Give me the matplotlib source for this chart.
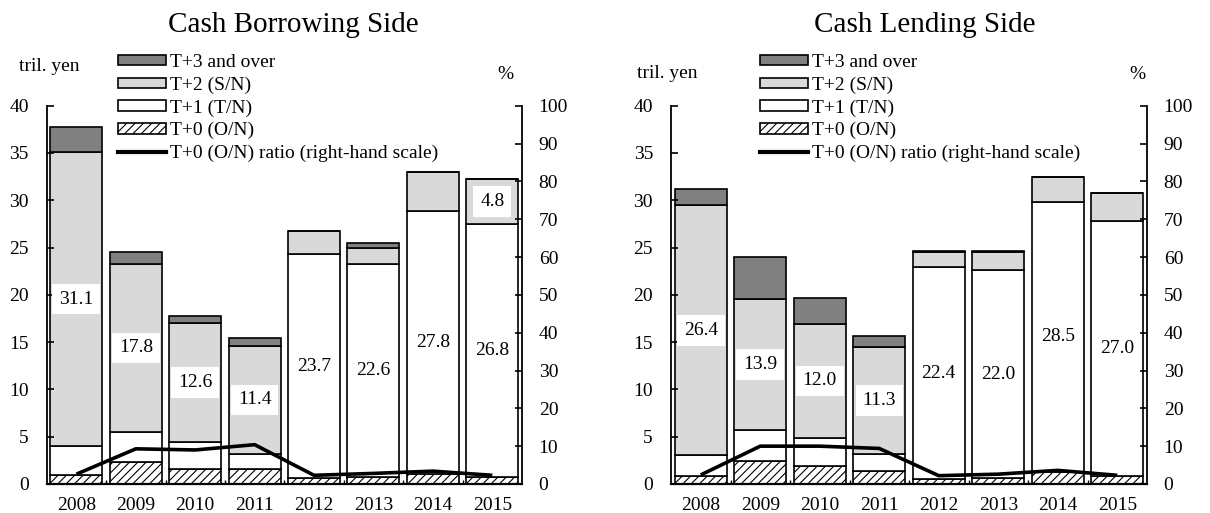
import matplotlib
matplotlib.use("Agg")
import matplotlib.pyplot as plt
from matplotlib.patches import Patch
from matplotlib.lines import Line2D

plt.rcParams["font.family"] = ["Liberation Serif", "DejaVu Serif"]
plt.rcParams["hatch.linewidth"] = 0.8

YEARS = ["2008", "2009", "2010", "2011", "2012", "2013", "2014", "2015"]

# Cash borrowing side (tril. yen)
BORROW_T0 = [1.0, 2.3, 1.6, 1.6, 0.6, 0.7, 1.1, 0.7]
BORROW_T1 = [3.0, 3.2, 2.8, 1.6, 23.7, 22.6, 27.8, 26.8]
BORROW_T2 = [31.1, 17.8, 12.6, 11.4, 2.4, 1.7, 4.1, 4.8]
BORROW_T3 = [2.6, 1.2, 0.8, 0.8, 0.0, 0.5, 0.0, 0.0]
BORROW_RATIO = [2.6, 9.3, 9.0, 10.4, 2.3, 2.8, 3.4, 2.3]

# Cash lending side (tril. yen)
LEND_T0 = [0.85, 2.4, 1.9, 1.4, 0.5, 0.6, 1.3, 0.8]
LEND_T1 = [2.2, 3.3, 3.0, 1.8, 22.4, 22.0, 28.5, 27.0]
LEND_T2 = [26.4, 13.9, 12.0, 11.3, 1.6, 1.9, 2.7, 3.0]
LEND_T3 = [1.7, 4.4, 2.8, 1.1, 0.15, 0.15, 0.0, 0.0]
LEND_RATIO = [2.4, 10.0, 10.0, 9.4, 2.2, 2.6, 3.6, 2.3]

# which segments carry a value label: (year index, segment name)
BORROW_LABELS = [(0, "T2"), (1, "T2"), (2, "T2"), (3, "T2"),
                 (4, "T1"), (5, "T1"), (6, "T1"), (7, "T1"), (7, "T2")]
LEND_LABELS = [(0, "T2"), (1, "T2"), (2, "T2"), (3, "T2"),
               (4, "T1"), (5, "T1"), (6, "T1"), (7, "T1")]

LEGEND_LABELS = ["T+3 and over", "T+2 (S/N)", "T+1 (T/N)", "T+0 (O/N)",
                 "T+0 (O/N) ratio (right-hand scale)"]

C_T3 = "#808080"
C_T2 = "#d9d9d9"
C_T1 = "#ffffff"
EDGE = "black"
FS = 14

W, H = 1210, 513


def px(x, y, w, h):
    return [x / W, (H - y - h) / H, w / W, h / H]


def draw_panel(fig, rect, t0, t1, t2, t3, ratio, labels, title, title_x,
               yen_xy, pct_xy, leg_xy):
    ax = fig.add_axes(px(*rect))
    x = list(range(len(YEARS)))
    width = 0.875
    segs = {"T0": t0, "T1": t1, "T2": t2, "T3": t3}
    b1 = [a for a in t0]
    b2 = [a + b for a, b in zip(t0, t1)]
    b3 = [a + b for a, b in zip(b2, t2)]
    bottoms = {"T0": [0] * len(x), "T1": b1, "T2": b2, "T3": b3}

    ax.bar(x, t0, width, color="white", edgecolor=EDGE, hatch="////", lw=1.2)
    ax.bar(x, t1, width, bottom=b1, color=C_T1, edgecolor=EDGE, lw=1.2)
    ax.bar(x, t2, width, bottom=b2, color=C_T2, edgecolor=EDGE, lw=1.2)
    ax.bar(x, t3, width, bottom=b3, color=C_T3, edgecolor=EDGE, lw=1.2)

    for i, seg in labels:
        v = segs[seg][i]
        yc = bottoms[seg][i] + v / 2
        ax.text(x[i], yc, f"{v:.1f}", ha="center", va="center", fontsize=FS,
                bbox=dict(boxstyle="square,pad=0.35", fc="white", ec="none"))

    ax.set_xlim(-0.5, len(x) - 0.5)
    ax.set_ylim(0, 40)
    ax.set_yticks(range(0, 41, 5))
    ax.set_xticks(x)
    ax.set_xticklabels(YEARS, fontsize=FS)
    ax.set_xticks([i + 0.5 for i in x[:-1]], minor=True)
    ax.tick_params(axis="x", which="major", length=0, pad=9)
    ax.tick_params(axis="x", which="minor", direction="in", length=3, width=1)
    ax.tick_params(axis="y", direction="in", length=5, width=1.2, pad=13,
                   labelsize=FS)
    for s in ["top", "right"]:
        ax.spines[s].set_visible(False)
    ax.spines["left"].set_linewidth(1.3)
    ax.spines["bottom"].set_linewidth(1.6)

    axr = ax.twinx()
    axr.plot(x, ratio, color="black", lw=2.6, solid_capstyle="butt")
    axr.set_ylim(0, 100)
    axr.set_yticks(range(0, 101, 10))
    axr.tick_params(axis="y", direction="in", length=5, width=1.2, pad=12,
                    labelsize=FS)
    for s in ["top", "left", "bottom"]:
        axr.spines[s].set_visible(False)
    axr.spines["right"].set_linewidth(1.3)

    fig.text(title_x / W, 1 - 31.7 / H, title, fontsize=21, ha="center",
             va="baseline")
    fig.text(yen_xy[0] / W, 1 - yen_xy[1] / H, "tril. yen", fontsize=FS,
             ha="center", va="center")
    fig.text(pct_xy[0] / W, 1 - pct_xy[1] / H, "%", fontsize=FS,
             ha="center", va="center")

    handles = [
        Patch(facecolor=C_T3, edgecolor=EDGE, lw=1.2),
        Patch(facecolor=C_T2, edgecolor=EDGE, lw=1.2),
        Patch(facecolor=C_T1, edgecolor=EDGE, lw=1.2),
        Patch(facecolor="white", edgecolor=EDGE, hatch="////", lw=1.2),
        Line2D([0], [0], color="black", lw=3),
    ]
    fig.legend(handles, LEGEND_LABELS, loc="upper left",
               bbox_to_anchor=(leg_xy[0] / W, 1 - leg_xy[1] / H),
               frameon=False, fontsize=FS, borderpad=0, borderaxespad=0,
               handlelength=2.45, handleheight=0.45, handletextpad=0.25,
               labelspacing=0.28)


fig = plt.figure(figsize=(W / 100, H / 100), dpi=100)

draw_panel(fig, (46.7, 105.7, 475.3, 378.3),
           BORROW_T0, BORROW_T1, BORROW_T2, BORROW_T3, BORROW_RATIO,
           BORROW_LABELS, "Cash Borrowing Side", 293, (49, 67), (505, 75),
           (118, 54))
draw_panel(fig, (671, 105.7, 476, 378.3),
           LEND_T0, LEND_T1, LEND_T2, LEND_T3, LEND_RATIO,
           LEND_LABELS, "Cash Lending Side", 925, (667, 73), (1137, 75),
           (760, 54))

fig.savefig("out.png", dpi=100)
